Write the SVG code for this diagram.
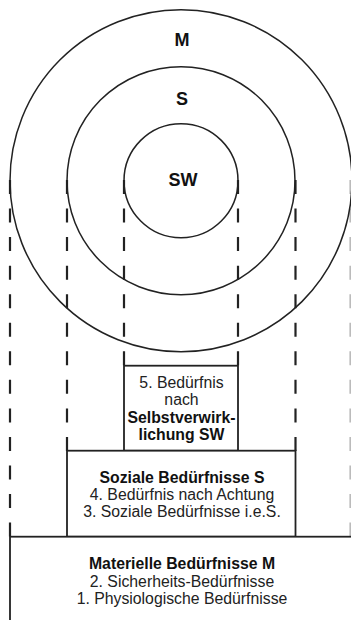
<svg xmlns="http://www.w3.org/2000/svg" width="351" height="620" viewBox="0 0 351 620">
<style>
.circ{fill:none;stroke:#222;stroke-width:1.5}
.box{fill:#fff;stroke:#222;stroke-width:1.8}
.dash{stroke:#222;stroke-width:2.2;stroke-dasharray:14 14.55;fill:none}
.lbl{font-family:"Liberation Sans",Arial,sans-serif;font-weight:bold;font-size:18px;fill:#111;text-anchor:middle}
.t{font-family:"Liberation Sans",Arial,sans-serif;font-size:15.8px;fill:#222;text-anchor:middle}
.b{font-weight:bold;fill:#111}
</style>
<rect width="351" height="620" fill="#fff"/>
<g id="connectors">
<line class="dash" x1="10" y1="180" x2="10" y2="537"/>
<line class="dash" x1="67" y1="180" x2="67" y2="451"/>
<line class="dash" x1="124" y1="180" x2="124" y2="366"/>
<line class="dash" x1="238" y1="180" x2="238" y2="366"/>
<line class="dash" x1="295.5" y1="180" x2="295.5" y2="451"/>
<line class="dash" x1="350.5" y1="180" x2="350.5" y2="537" style="stroke:#bbb"/>
</g>
<g id="circle-M">
<circle class="circ" cx="181" cy="180.7" r="171"/>
<text class="lbl" x="182" y="45.5">M</text>
</g>
<g id="circle-S">
<circle class="circ" cx="181" cy="180.7" r="114"/>
<text class="lbl" x="182" y="104.5">S</text>
</g>
<g id="circle-SW">
<circle class="circ" cx="181" cy="180.7" r="57"/>
<text class="lbl" x="183" y="186">SW</text>
</g>
<g id="box-SW">
<rect class="box" x="124" y="365.7" width="114" height="85"/>
<text class="t" x="181.5" y="388">5. Bedürfnis</text>
<text class="t" x="181.5" y="405.3">nach</text>
<text class="t b" x="181.5" y="423">Selbstverwirk-</text>
<text class="t b" x="181.5" y="440">lichung SW</text>
</g>
<g id="box-S">
<rect class="box" x="67" y="450.7" width="228.5" height="86"/>
<text class="t b" x="182" y="482.5">Soziale Bedürfnisse S</text>
<text class="t" x="182" y="499.5">4. Bedürfnis nach Achtung</text>
<text class="t" x="182" y="516.7">3. Soziale Bedürfnisse i.e.S.</text>
</g>
<g id="box-M">
<rect class="box" x="10" y="536.7" width="345" height="90"/>
<text class="t b" x="182" y="569.3">Materielle Bedürfnisse M</text>
<text class="t" x="182" y="586.7">2. Sicherheits-Bedürfnisse</text>
<text class="t" x="182" y="604">1. Physiologische Bedürfnisse</text>
</g>
</svg>
